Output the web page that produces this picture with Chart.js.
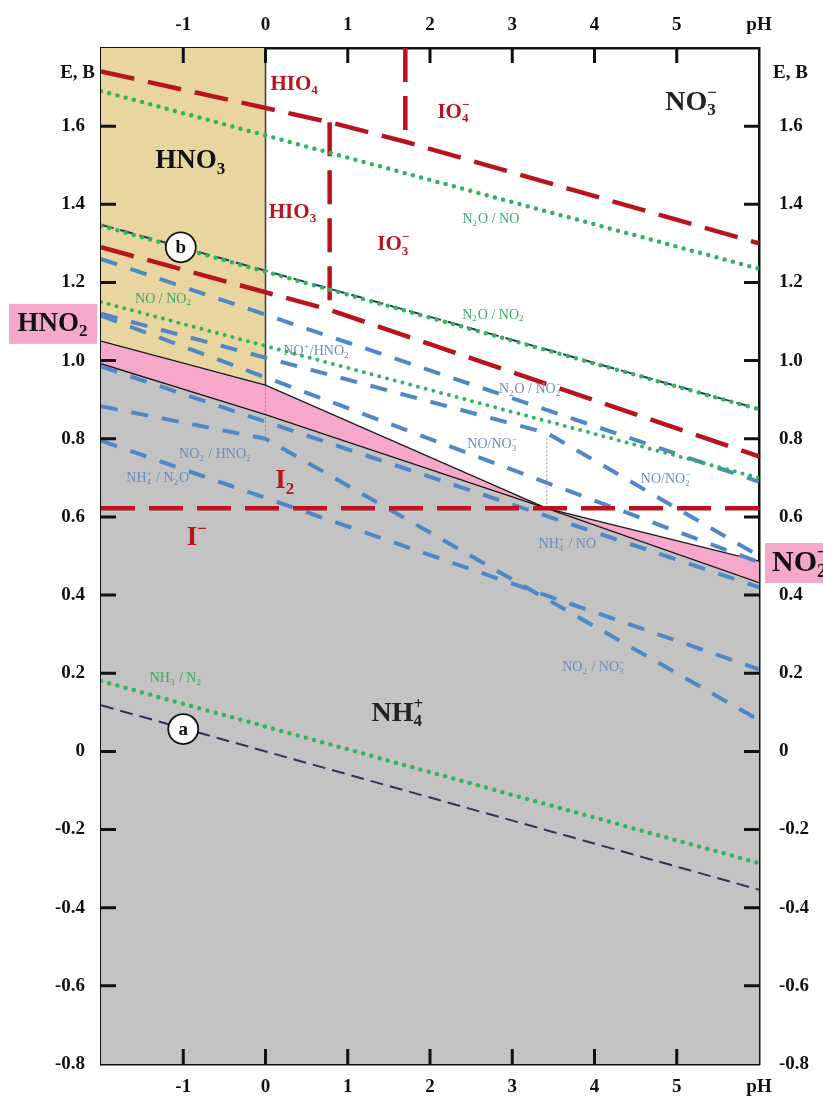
<!DOCTYPE html>
<html>
<head>
<meta charset="utf-8">
<script src="https://cdn.jsdelivr.net/npm/chart.js@4.4.1/dist/chart.umd.min.js"></script>
<style>
  html, body { margin: 0; padding: 0; background: #fff; }
  #wrap { width: 823px; height: 1100px; position: relative; }
</style>
</head>
<body>
<div id="wrap"><canvas id="pourbaix"></canvas></div>
<script>
// axis ranges / ticks
const phRange = [-2, 6];
const eRange = [-0.8, 1.8];

// stability fields (pH, E)
const upperBound = [[-2, 1.05], [0, 0.937], [3.42, 0.622], [6, 0.487]];
const lowerBound = [[-2, 0.992], [0, 0.862], [3.42, 0.622], [6, 0.432]];
const hno3Bound = [[-2, 1.05], [0, 0.937]];
const hno3Edge = [[0, 0.937], [0, 1.8]];
const guide0 = [[0, 0.937], [0, 0.80]];
const guide34 = [[3.42, 0.622], [3.42, 0.80]];

// iodine couples (red)
const hio4Line = [[-2, 1.74], [0.78, 1.61], [1.7, 1.56], [6, 1.30]];
const io4Vert = [[1.7, 1.8], [1.7, 1.56]];
const hio3Vert = [[0.78, 1.61], [0.78, 1.13]];
const io3Line = [[-2, 1.29], [0.78, 1.13], [6, 0.755]];
const i2Line = [[-2, 0.622], [6, 0.622]];

// nitrogen couples (green, dotted)
const n2oNo = [[-2, 1.69], [6, 1.235]];
const n2oNo2 = [[-2, 1.345], [6, 0.875]];
const noNo2 = [[-2, 1.15], [6, 0.70]];
const nh3N2 = [[-2, 0.18], [6, -0.286]];

// nitrogen couples (blue, dashed)
const blue1 = [[-2, 1.26], [6, 0.69]];
const blue2 = [[-2, 1.12], [3.42, 0.815], [6, 0.50]];
const blue3 = [[-2, 1.115], [6, 0.484]];
const blue4 = [[-2, 0.985], [6, 0.42]];
const blue5 = [[-2, 0.883], [0, 0.80], [6, 0.08]];
const blue6 = [[-2, 0.795], [6, 0.21]];

// water lines a, b
const waterA = [[-2, 0.118], [6, -0.354]];
const waterB = [[-2, 1.348], [6, 0.876]];

const SERIF = "'Liberation Serif', 'Times New Roman', serif";
const RED = '#b8141e', GREEN = '#2fb55a', BLUE = '#5088c6', NAVY = '#2b3558';
const TXTBLUE = '#6a8cb6', TXTGREEN = '#3aa860';

const pts = arr => arr.map(p => ({x: p[0], y: p[1]}));

function line(arr, color, width, dash, order, cap) {
  return {
    data: pts(arr), showLine: true, pointRadius: 0, borderColor: color,
    borderWidth: width, borderDash: dash || [], borderCapStyle: cap || 'butt',
    fill: false, order: order, tension: 0
  };
}

const datasets = [
  {data: pts(hno3Bound), showLine: true, pointRadius: 0, borderWidth: 0, borderColor: 'rgba(0,0,0,0)',
   backgroundColor: '#e8d5a0', fill: 'end', order: 9},
  {data: pts(upperBound), showLine: true, pointRadius: 0, borderWidth: 1.3, borderColor: '#1a1a1a',
   backgroundColor: '#f6a8ca', fill: 2, order: 6},
  {data: pts(lowerBound), showLine: true, pointRadius: 0, borderWidth: 1.3, borderColor: '#1a1a1a',
   backgroundColor: '#c3c3c3', fill: 'start', order: 6},
  line(hno3Edge, '#444', 1.6, [], 6),
  line(guide0, '#8796a8', 1, [2, 2], 7),
  line(guide34, '#8796a8', 1, [2, 2], 7),
  line(blue1, BLUE, 4, [17, 14], 4),
  line(blue2, BLUE, 4, [17, 14], 4),
  line(blue3, BLUE, 4, [17, 14], 4),
  line(blue4, BLUE, 4, [17, 14], 4),
  line(blue5, BLUE, 4, [17, 14], 4),
  line(blue6, BLUE, 4, [17, 14], 4),
  line(waterA, NAVY, 2, [13, 7], 5),
  line(waterB, NAVY, 2, [13, 7], 5),
  line(hio4Line, RED, 4.5, [34, 14], 3),
  line(io4Vert, RED, 4.5, [34, 14], 3),
  line(hio3Vert, RED, 4.5, [34, 14], 3),
  line(io3Line, RED, 4.5, [34, 14], 3),
  line(i2Line, RED, 4.5, [34, 14], 3),
  line(n2oNo, GREEN, 4.5, [0, 8.5], 1, 'round'),
  line(n2oNo2, GREEN, 4.5, [0, 8.5], 1, 'round'),
  line(noNo2, GREEN, 4, [0, 8], 1, 'round'),
  line(nh3N2, GREEN, 4.5, [0, 8.5], 1, 'round')
];

// text labels placed in data coordinates
const labels = [
  {x: -0.91, y: 1.51, parts: ['HNO', {sub: '3'}], size: 27, color: '#111', bold: true},
  {x: 0.06, y: 1.707, parts: ['HIO', {sub: '4'}], size: 21, color: RED, bold: true, align: 'left'},
  {x: 2.29, y: 1.635, parts: ['IO', {sub: '4', sup: '−'}], size: 21, color: RED, bold: true},
  {x: 5.18, y: 1.66, parts: ['NO', {sub: '3', sup: '−'}], size: 28, color: '#222', bold: true},
  {x: 0.04, y: 1.38, parts: ['HIO', {sub: '3'}], size: 21, color: RED, bold: true, align: 'left'},
  {x: 1.56, y: 1.296, parts: ['IO', {sub: '3', sup: '−'}], size: 21, color: RED, bold: true},
  {x: 2.74, y: 1.362, parts: ['N', {sub: '2'}, 'O / NO'], size: 14, color: TXTGREEN},
  {x: 2.77, y: 1.117, parts: ['N', {sub: '2'}, 'O / NO', {sub: '2'}], size: 14, color: TXTGREEN},
  {x: -1.24, y: 1.158, parts: ['NO / NO', {sub: '2'}], size: 14, color: TXTGREEN},
  {x: 0.62, y: 1.023, parts: ['NO', {sup: '+'}, '/HNO', {sub: '2'}], size: 14, color: TXTBLUE},
  {x: 3.22, y: 0.926, parts: ['N', {sub: '2'}, 'O / NO', {sub: '2', sup: '−'}], size: 14, color: TXTBLUE},
  {x: 2.76, y: 0.786, parts: ['NO/NO', {sub: '3', sup: '−'}], size: 14, color: TXTBLUE},
  {x: 4.87, y: 0.696, parts: ['NO/NO', {sub: '2', sup: '−'}], size: 14, color: TXTBLUE},
  {x: -0.61, y: 0.76, parts: ['NO', {sub: '2'}, ' / HNO', {sub: '2'}], size: 14, color: TXTBLUE},
  {x: -1.31, y: 0.699, parts: ['NH', {sub: '4', sup: '+'}, ' / N', {sub: '2'}, 'O'], size: 14, color: TXTBLUE},
  {x: 0.24, y: 0.691, parts: ['I', {sub: '2'}], size: 27, color: RED, bold: true},
  {x: -0.83, y: 0.546, parts: ['I', {sup: '−'}], size: 27, color: RED, bold: true},
  {x: 3.67, y: 0.53, parts: ['NH', {sub: '4', sup: '+'}, ' / NO'], size: 14, color: TXTBLUE},
  {x: 3.99, y: 0.214, parts: ['NO', {sub: '2'}, ' / NO', {sub: '3', sup: '−'}], size: 14, color: TXTBLUE},
  {x: -1.09, y: 0.186, parts: ['NH', {sub: '3'}, ' / N', {sub: '2'}], size: 14, color: TXTGREEN},
  {x: 1.61, y: 0.097, parts: ['NH', {sub: '4', sup: '+'}], size: 28, color: '#222', bold: true}
];
const circles = [{x: -1.03, y: 1.29, t: 'b'}, {x: -1.0, y: 0.057, t: 'a'}];

function drawRich(ctx, parts, x, y, size, color, bold, align) {
  const w8 = bold ? 'bold ' : '';
  const big = w8 + size + 'px ' + SERIF;
  const small = w8 + Math.round(size * 0.62) + 'px ' + SERIF;
  let total = 0;
  const items = parts.map(p => {
    let pw;
    if (typeof p === 'string') { ctx.font = big; pw = ctx.measureText(p).width; }
    else {
      ctx.font = small;
      pw = Math.max(p.sub ? ctx.measureText(p.sub).width : 0, p.sup ? ctx.measureText(p.sup).width : 0) + 1;
    }
    total += pw;
    return {p, pw};
  });
  let cx = align === 'left' ? x : align === 'right' ? x - total : x - total / 2;
  ctx.fillStyle = color;
  ctx.textAlign = 'left';
  ctx.textBaseline = 'middle';
  items.forEach(({p, pw}) => {
    if (typeof p === 'string') { ctx.font = big; ctx.fillText(p, cx, y); }
    else {
      ctx.font = small;
      if (p.sub) ctx.fillText(p.sub, cx, y + size * 0.3);
      if (p.sup) ctx.fillText(p.sup, cx, y - size * 0.33);
    }
    cx += pw;
  });
}

const decorPlugin = {
  id: 'decor',
  afterDatasetsDraw(chart) {
    const ctx = chart.ctx;
    const sx = chart.scales.x, sy = chart.scales.y;
    ctx.save();
    labels.forEach(l => drawRich(ctx, l.parts, sx.getPixelForValue(l.x), sy.getPixelForValue(l.y),
      l.size, l.color, l.bold, l.align));
    circles.forEach(c => {
      const px = sx.getPixelForValue(c.x), py = sy.getPixelForValue(c.y);
      ctx.beginPath();
      ctx.arc(px, py, 15, 0, Math.PI * 2);
      ctx.fillStyle = '#fff';
      ctx.fill();
      ctx.lineWidth = 1.8;
      ctx.strokeStyle = '#111';
      ctx.stroke();
      ctx.font = 'bold 19px ' + SERIF;
      ctx.fillStyle = '#111';
      ctx.textAlign = 'center';
      ctx.textBaseline = 'middle';
      ctx.fillText(c.t, px, py + 1);
    });
    ctx.restore();
  },
  afterDraw(chart) {
    const ctx = chart.ctx;
    const a = chart.chartArea;
    const sx = chart.scales.x, sy = chart.scales.y;
    ctx.save();
    // inward tick marks
    ctx.strokeStyle = '#111';
    ctx.lineWidth = 3;
    ctx.beginPath();
    for (let v = -1; v <= 5; v++) {
      const px = sx.getPixelForValue(v);
      ctx.moveTo(px, a.bottom); ctx.lineTo(px, a.bottom - 15);
      ctx.moveTo(px, a.top); ctx.lineTo(px, a.top + 15);
    }
    for (let i = 1; i <= 12; i++) {
      const py = sy.getPixelForValue(-0.8 + i * 0.2);
      ctx.moveTo(a.left, py); ctx.lineTo(a.left + 15, py);
      ctx.moveTo(a.right, py); ctx.lineTo(a.right - 15, py);
    }
    ctx.stroke();
    // axis captions
    const eb = sy.getPixelForValue(1.735);
    ctx.font = 'bold 19px ' + SERIF;
    ctx.fillStyle = '#111';
    ctx.textBaseline = 'middle';
    ctx.textAlign = 'right';
    ctx.fillText('E, B', a.left - 6, eb);
    ctx.textAlign = 'left';
    ctx.fillText('E, B', a.right + 14, eb);
    // pink side tags
    const yl = sy.getPixelForValue(1.094);
    ctx.fillStyle = '#f6a8ca';
    ctx.fillRect(a.left - 92, yl - 20, 88, 40);
    drawRich(ctx, ['HNO', {sub: '2'}], a.left - 48, yl, 27, '#111', true);
    const yr = sy.getPixelForValue(0.482);
    ctx.fillStyle = '#f6a8ca';
    ctx.fillRect(a.right + 6, yr - 20, 70, 40);
    drawRich(ctx, ['NO', {sub: '2', sup: '−'}], a.right + 13, yr, 30, '#111', true, 'left');
    ctx.restore();
  }
};

const tickFont = {family: SERIF, size: 19, weight: 'bold'};
const phTick = v => v === 6 ? 'pH' : (v === -2 ? '' : String(v));
const eTick = v => v > 1.75 ? '' : (Math.abs(v) < 1e-9 ? '0' : v.toFixed(1));
const border = {display: true, color: '#111', width: 2.5};

new Chart(document.getElementById('pourbaix'), {
  type: 'scatter',
  data: {datasets: datasets},
  options: {
    responsive: true,
    maintainAspectRatio: false,
    animation: false,
    layout: {padding: 0},
    plugins: {
      legend: {display: false},
      tooltip: {enabled: false},
      filler: {drawTime: 'beforeDatasetsDraw', propagate: false}
    },
    scales: {
      x: {
        type: 'linear', position: 'bottom', min: phRange[0], max: phRange[1],
        grid: {display: false, drawTicks: false}, border: border,
        ticks: {stepSize: 1, autoSkip: false, maxRotation: 0, padding: 12, color: '#111', font: tickFont, callback: phTick},
        afterFit: s => { s.height = 36; }
      },
      x2: {
        type: 'linear', position: 'top', min: phRange[0], max: phRange[1],
        grid: {display: false, drawTicks: false}, border: border,
        ticks: {stepSize: 1, autoSkip: false, maxRotation: 0, padding: 12, color: '#111', font: tickFont, callback: phTick},
        afterFit: s => { s.height = 48; }
      },
      y: {
        type: 'linear', position: 'left', min: eRange[0], max: eRange[1],
        grid: {display: false, drawTicks: false}, border: border,
        ticks: {stepSize: 0.2, autoSkip: false, padding: 16, color: '#111', font: tickFont, callback: eTick},
        afterFit: s => { s.width = 101; }
      },
      y2: {
        type: 'linear', position: 'right', min: eRange[0], max: eRange[1],
        grid: {display: false, drawTicks: false}, border: border,
        ticks: {stepSize: 0.2, autoSkip: false, padding: 20, color: '#111', font: tickFont, callback: eTick},
        afterFit: s => { s.width = 64; }
      }
    }
  },
  plugins: [decorPlugin]
});
</script>
</body>
</html>
